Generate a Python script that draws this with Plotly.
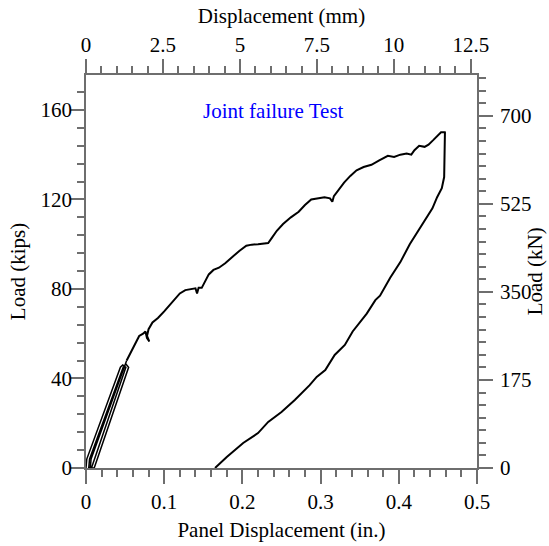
import plotly.graph_objects as go

# ---- data (x: panel displacement in inches, y: load in kips) ----
cycles_x = [0.000, 0.001, 0.044, 0.047, 0.051, 0.008, 0.007,
            0.0035, 0.0045, 0.0475, 0.051, 0.0545, 0.0115, 0.0105,
            0.0055, 0.0065, 0.052]
cycles_y = [0.0, 4.0, 45.0, 46.0, 45.0, 1.0, 0.0,
            0.0, 4.0, 45.0, 46.5, 45.0, 1.0, 0.0,
            0.0, 4.0, 48.0]

envelope_x = [0.052, 0.058, 0.063, 0.068, 0.073, 0.076, 0.078, 0.081, 0.078, 0.080, 0.085, 0.092,
              0.100, 0.106, 0.113, 0.120, 0.127, 0.133, 0.140, 0.142, 0.144, 0.148, 0.152, 0.157,
              0.163, 0.170, 0.178, 0.186, 0.196, 0.205, 0.212, 0.220, 0.228, 0.233, 0.237, 0.244,
              0.252, 0.262, 0.272, 0.280, 0.288, 0.297, 0.305, 0.312, 0.315, 0.317, 0.322, 0.330,
              0.338, 0.346, 0.355, 0.365, 0.375, 0.386, 0.394, 0.402, 0.410, 0.416, 0.420, 0.426,
              0.433, 0.438, 0.444, 0.450, 0.454, 0.460]
envelope_y = [48.0, 52.0, 56.0, 59.0, 60.0, 61.0, 58.0, 56.5, 59.0, 62.0, 65.0, 67.0,
              70.0, 72.5, 75.0, 78.0, 79.5, 80.0, 80.3, 78.0, 80.5, 80.5, 83.0, 86.5,
              88.5, 89.5, 91.5, 94.0, 97.0, 99.3, 99.8, 100.0, 100.2, 100.5, 102.5, 106.0,
              109.0, 112.0, 114.5, 117.5, 120.0, 120.5, 121.0, 120.5, 119.0, 121.5, 124.0, 127.5,
              130.5, 133.0, 134.5, 135.5, 137.5, 139.5, 139.0, 140.0, 140.5, 140.0, 142.0, 144.0,
              143.5, 144.5, 146.5, 148.5, 150.0, 150.0]

unload_x = [0.459, 0.458, 0.455, 0.449, 0.443, 0.436, 0.425, 0.414, 0.402, 0.389, 0.376, 0.370,
            0.359, 0.341, 0.331, 0.318, 0.306, 0.295, 0.286, 0.267, 0.250, 0.233, 0.220, 0.201,
            0.180, 0.165]
unload_y = [150.0, 130.0, 125.0, 121.0, 116.0, 112.0, 106.0, 100.0, 92.0, 85.0, 77.0, 75.0,
            69.0, 61.0, 55.0, 50.5, 43.8, 40.7, 37.0, 30.4, 25.0, 20.6, 15.6, 11.2,
            4.9, 0.0]

bottom_ticks = [0, 0.1, 0.2, 0.3, 0.4, 0.5]
bottom_labels = ["0", "0.1", "0.2", "0.3", "0.4", "0.5"]
top_ticks = [0, 2.5, 5, 7.5, 10, 12.5]
top_labels = ["0", "2.5", "5", "7.5", "10", "12.5"]
left_ticks = [0, 40, 80, 120, 160]
right_ticks = [0, 175, 350, 525, 700]

X_MAX_IN = 0.5
Y_MAX_KIPS = 175.6
IN_TO_MM = 25.4
KIPS_TO_KN = 4.44822

FONT = "Liberation Serif"
FS = 21
AX = "#6e6e6e"

fig = go.Figure()
for xs, ys, w in [(cycles_x, cycles_y, 1.5), (envelope_x, envelope_y, 2),
                  (unload_x, unload_y, 2)]:
    fig.add_trace(go.Scatter(x=xs, y=ys, mode="lines",
                             line=dict(color="black", width=w), showlegend=False,
                             hoverinfo="skip"))
# invisible trace to activate secondary axes
fig.add_trace(go.Scatter(x=[0], y=[0], xaxis="x2", yaxis="y2", mode="markers",
                         marker=dict(opacity=0), showlegend=False, hoverinfo="skip"))

common = dict(showgrid=False, zeroline=False, showline=True, linecolor=AX, linewidth=1.5,
              ticks="outside", ticklen=14, tickwidth=1.5, tickcolor=AX, automargin=False,
              tickfont=dict(family=FONT, size=FS, color="black"),
              title_font=dict(family=FONT, size=FS, color="black"))
minor = dict(ticklen=7, tickwidth=1.5, tickcolor=AX, ticks="outside")

fig.update_layout(
    width=549, height=546,
    margin=dict(l=86, r=72, t=75, b=78),
    paper_bgcolor="white", plot_bgcolor="white",
    xaxis=dict(range=[0, X_MAX_IN], tickvals=bottom_ticks, ticktext=bottom_labels,
               minor=dict(dtick=0.02, **minor),
               title=dict(text="Panel Displacement (in.)", standoff=9),
               ticklabelstandoff=0, **common),
    xaxis2=dict(range=[0, X_MAX_IN * IN_TO_MM], overlaying="x", side="top", anchor="y",
                tickvals=top_ticks, ticktext=top_labels,
                minor=dict(dtick=0.5, **minor),
                title=dict(text="Displacement (mm)", standoff=3),
                ticklabelstandoff=-1, **common),
    yaxis=dict(range=[0, Y_MAX_KIPS], tickvals=left_ticks,
               minor=dict(dtick=8, **minor),
               title=dict(text="Load (kips)", standoff=9),
               ticklabelstandoff=-6, **common),
    yaxis2=dict(range=[0, Y_MAX_KIPS * KIPS_TO_KN], overlaying="y", side="right", anchor="x",
                tickvals=right_ticks,
                minor=dict(dtick=25, **minor),
                ticklabelstandoff=3, **common),
    annotations=[
        dict(text="Joint failure Test", xref="paper", yref="paper", x=0.48, y=0.908,
             xanchor="center", yanchor="middle",
             showarrow=False, font=dict(family=FONT, size=FS, color="blue")),
        dict(text="Load (kN)", xref="paper", yref="paper", x=1.148, y=0.5,
             xanchor="center", yanchor="middle", textangle=-90,
             showarrow=False, font=dict(family=FONT, size=FS, color="black")),
    ],
)

# remove the default page margin so the figure fills the window exactly
fig.write_html("out.html", config={"displayModeBar": False},
               post_script="document.body.style.margin='0';document.body.style.overflow='hidden';")
